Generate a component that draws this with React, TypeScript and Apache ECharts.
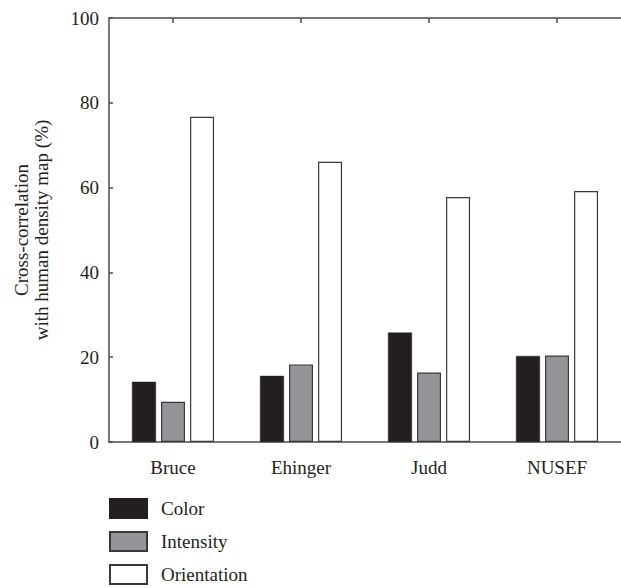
import React, { useEffect, useRef } from "react";
import * as echarts from "echarts";

const categories = ["Bruce", "Ehinger", "Judd", "NUSEF"];
const colorValues = [14.2, 15.6, 25.8, 20.3];
const intensityValues = [9.5, 18.3, 16.4, 20.4];
const orientationValues = [76.7, 66.1, 57.8, 59.2];
const yTicks = [0, 20, 40, 60, 80, 100];

const FONT = "Liberation Serif";

export default function App() {
  const ref = useRef<HTMLDivElement>(null);
  useEffect(() => {
    if (!ref.current) return;
    const chart = echarts.init(ref.current, undefined, { renderer: "svg" });
    const axisLine = { lineStyle: { color: "#4d4d4d", width: 1.5 } };
    chart.setOption({
      animation: false,
      textStyle: { fontFamily: FONT },
      grid: { left: 109, top: 18, width: 523, height: 424, containLabel: false },
      legend: {
        orient: "vertical",
        left: 109,
        top: 498,
        height: 100,
        padding: 0,
        icon: "rect",
        itemWidth: 37,
        itemHeight: 19,
        itemGap: 12,
        textStyle: { fontFamily: FONT, fontSize: 19, color: "#231f20", padding: [0, 0, 0, 9] },
        data: ["Color", "Intensity", "Orientation"],
      },
      xAxis: [
        {
          type: "category",
          data: categories,
          position: "bottom",
          axisLine,
          axisTick: { show: false },
          axisLabel: { fontFamily: FONT, fontSize: 19, color: "#231f20", margin: 16 },
        },
        {
          type: "category",
          data: categories,
          position: "top",
          axisLine,
          axisTick: { show: true, inside: true, alignWithLabel: true, length: 5, lineStyle: { color: "#4d4d4d", width: 1.5 } },
          axisLabel: { show: false },
        },
      ],
      yAxis: {
        type: "value",
        min: yTicks[0],
        max: yTicks[yTicks.length - 1],
        interval: 20,
        name: "Cross-correlation\nwith human density map (%)",
        nameLocation: "middle",
        nameGap: 58,
        nameRotate: 90,
        nameTextStyle: { fontFamily: FONT, fontSize: 19, color: "#231f20", lineHeight: 20 },
        axisLine: { show: true, ...axisLine },
        axisTick: { show: true, inside: true, length: 4, lineStyle: { color: "#4d4d4d", width: 1.5 } },
        axisLabel: { fontFamily: FONT, fontSize: 19, color: "#231f20", margin: 10 },
        splitLine: { show: false },
      },
      series: [
        {
          name: "Color",
          type: "bar",
          data: colorValues,
          barWidth: 24,
          barGap: "21%",
          itemStyle: { color: "#231f20", borderColor: "#231f20", borderWidth: 0.5 },
        },
        {
          name: "Intensity",
          type: "bar",
          data: intensityValues,
          barWidth: 24,
          barGap: "21%",
          itemStyle: { color: "#939598", borderColor: "#3a3a3a", borderWidth: 1.2 },
        },
        {
          name: "Orientation",
          type: "bar",
          data: orientationValues,
          barWidth: 24,
          barGap: "21%",
          itemStyle: { color: "#ffffff", borderColor: "#3a3a3a", borderWidth: 1.2 },
        },
      ],
    });
    return () => chart.dispose();
  }, []);
  return <div ref={ref} style={{ width: 621, height: 588, position: "absolute", left: 0, top: 0 }} />;
}
